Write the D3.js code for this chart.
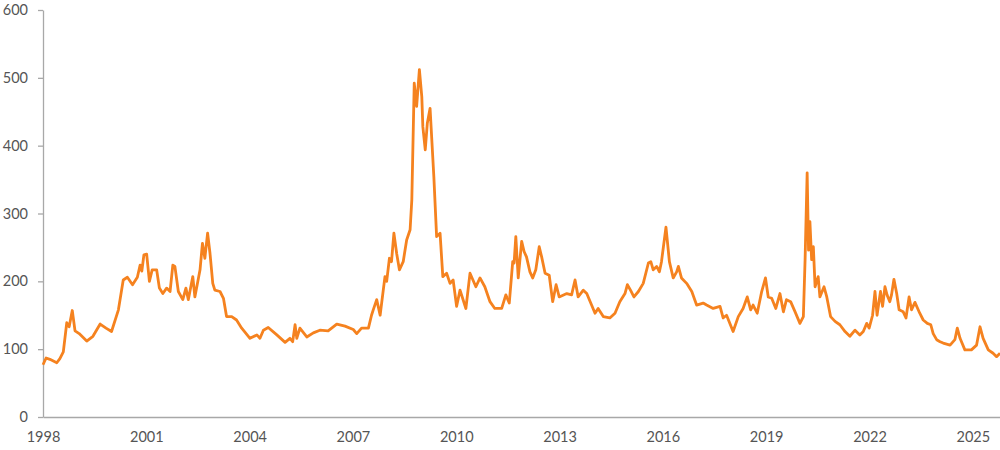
<!DOCTYPE html>
<html>
<head>
<meta charset="utf-8">
<script src="https://cdn.jsdelivr.net/npm/d3@7"></script>
<style>
  body { margin: 0; background: #fff; }
  .axis text { font-family: Lato, "Open Sans", sans-serif; font-size: 14.5px; fill: #555; }
  .axis path, .axis line { stroke: #a8a8a8; stroke-width: 1.3; }
</style>
</head>
<body>
<div id="chart"></div>
<script>
// spread readings, decimal year -> value
const years = [
  1998.00, 1998.09, 1998.20, 1998.40, 1998.49, 1998.59, 1998.69, 1998.76, 1998.85, 1998.93,
  1999.05, 1999.27, 1999.45, 1999.66, 1999.83, 1999.99, 2000.19, 2000.33, 2000.45, 2000.60,
  2000.74, 2000.82, 2000.87, 2000.93, 2001.01, 2001.09, 2001.17, 2001.30, 2001.38, 2001.48,
  2001.59, 2001.69, 2001.77, 2001.83, 2001.93, 2002.06, 2002.15, 2002.22, 2002.35, 2002.41,
  2002.56, 2002.63, 2002.70, 2002.78, 2002.85, 2002.93, 2002.99, 2003.14, 2003.24, 2003.33,
  2003.48, 2003.62, 2003.77, 2004.01, 2004.21, 2004.30, 2004.40, 2004.54, 2004.79, 2005.03,
  2005.17, 2005.25, 2005.32, 2005.37, 2005.46, 2005.66, 2005.85, 2006.04, 2006.28, 2006.53,
  2006.77, 2007.01, 2007.11, 2007.25, 2007.45, 2007.54, 2007.59, 2007.69, 2007.79, 2007.93,
  2007.98, 2008.06, 2008.12, 2008.19, 2008.27, 2008.35, 2008.46, 2008.56, 2008.66, 2008.71,
  2008.78, 2008.85, 2008.93, 2009.00, 2009.03, 2009.10, 2009.16, 2009.24, 2009.35, 2009.43,
  2009.53, 2009.61, 2009.72, 2009.82, 2009.91, 2010.01, 2010.11, 2010.28, 2010.40, 2010.57,
  2010.69, 2010.83, 2010.98, 2011.12, 2011.32, 2011.44, 2011.54, 2011.64, 2011.68, 2011.73,
  2011.80, 2011.90, 2011.97, 2012.04, 2012.14, 2012.22, 2012.31, 2012.41, 2012.48, 2012.58,
  2012.70, 2012.80, 2012.90, 2012.99, 2013.21, 2013.35, 2013.45, 2013.54, 2013.69, 2013.79,
  2013.93, 2014.03, 2014.12, 2014.27, 2014.46, 2014.61, 2014.75, 2014.90, 2014.97, 2015.06,
  2015.16, 2015.29, 2015.43, 2015.58, 2015.65, 2015.72, 2015.82, 2015.90, 2015.96, 2016.09,
  2016.19, 2016.30, 2016.40, 2016.45, 2016.54, 2016.69, 2016.84, 2016.98, 2017.17, 2017.27,
  2017.46, 2017.66, 2017.75, 2017.85, 2018.04, 2018.19, 2018.33, 2018.45, 2018.55, 2018.62,
  2018.74, 2018.87, 2018.98, 2019.06, 2019.16, 2019.28, 2019.40, 2019.50, 2019.59, 2019.71,
  2019.84, 2019.98, 2020.08, 2020.13, 2020.19, 2020.23, 2020.27, 2020.32, 2020.37, 2020.42,
  2020.51, 2020.56, 2020.68, 2020.76, 2020.87, 2021.00, 2021.14, 2021.29, 2021.43, 2021.58,
  2021.72, 2021.82, 2021.92, 2021.99, 2022.09, 2022.16, 2022.22, 2022.32, 2022.38, 2022.45,
  2022.51, 2022.59, 2022.64, 2022.71, 2022.79, 2022.86, 2022.98, 2023.06, 2023.15, 2023.22,
  2023.32, 2023.46, 2023.56, 2023.68, 2023.78, 2023.85, 2023.95, 2024.05, 2024.14, 2024.34,
  2024.48, 2024.55, 2024.63, 2024.77, 2024.96, 2025.11, 2025.21, 2025.30, 2025.45, 2025.59,
  2025.69, 2025.79
];
const spreads = [
  77, 87, 85, 80, 86, 96, 139, 133, 157, 127,
  123, 112, 119, 137, 131, 126, 158, 202, 206, 195,
  206, 224, 215, 239, 240, 200, 217, 217, 190, 182,
  190, 185, 224, 222, 185, 173, 190, 173, 207, 177,
  217, 256, 234, 271, 241, 197, 187, 185, 175, 148,
  148, 143, 131, 116, 121, 116, 128, 132, 121, 110,
  116, 111, 136, 116, 131, 118, 124, 128, 127, 137,
  134, 129, 123, 131, 131, 150, 158, 173, 150, 207,
  200, 234, 229, 271, 241, 217, 229, 261, 276, 320,
  492, 458, 512, 472, 428, 394, 433, 455, 354, 266,
  271, 207, 212, 197, 202, 163, 187, 160, 212, 192,
  205, 192, 170, 160, 160, 180, 168, 229, 227, 266,
  205, 259, 244, 236, 214, 205, 217, 251, 236, 212,
  209, 170, 195, 177, 182, 180, 202, 177, 187, 182,
  165, 153, 160, 148, 146, 153, 170, 182, 195, 187,
  177, 185, 197, 227, 229, 217, 222, 214, 229, 280,
  229, 205, 214, 222, 205, 197, 185, 165, 168, 165,
  160, 163, 146, 150, 126, 148, 160, 177, 158, 165,
  153, 185, 205, 177, 175, 160, 182, 155, 173, 170,
  155, 138, 148, 232, 360, 246, 288, 232, 251, 192,
  207, 177, 192, 177, 148, 141, 136, 126, 119, 128,
  121, 126, 138, 131, 150, 185, 150, 185, 163, 192,
  180, 170, 180, 203, 182, 158, 155, 146, 177, 158,
  169, 153, 143, 138, 136, 123, 114, 111, 109, 106,
  114, 131, 116, 99, 99, 106, 133, 116, 99, 94,
  89, 94
];
const xTicks = [1998, 2001, 2004, 2007, 2010, 2013, 2016, 2019, 2022, 2025];
const yTicks = [0, 100, 200, 300, 400, 500, 600];

const width = 1000;
const height = 450;
const lineColor = "#f5821f";

const data = years.map((y, i) => ({ year: y, value: spreads[i] }));

const x = d3.scaleLinear()
  .domain([1998, 2025.79])
  .range([43, 1000]);

const y = d3.scaleLinear()
  .domain([0, 600])
  .range([417, 10]);

const svg = d3.select("#chart")
  .append("svg")
  .attr("width", width)
  .attr("height", height);

svg.append("g")
  .attr("class", "axis")
  .attr("transform", `translate(43, 0)`)
  .call(d3.axisLeft(y).tickValues(yTicks).tickSize(5).tickSizeOuter(0).tickPadding(10))

svg.append("g")
  .attr("class", "axis")
  .attr("transform", `translate(0, ${y(0)})`)
  .call(d3.axisBottom(x).tickValues(xTicks).tickFormat(d3.format("d")).tickSize(0).tickPadding(15))

const line = d3.line()
  .x(d => x(d.year))
  .y(d => y(d.value));

svg.append("path")
  .datum(data)
  .attr("fill", "none")
  .attr("stroke", lineColor)
  .attr("stroke-width", 2.8)
  .attr("stroke-linejoin", "round")
  .attr("d", line);
</script>
</body>
</html>
